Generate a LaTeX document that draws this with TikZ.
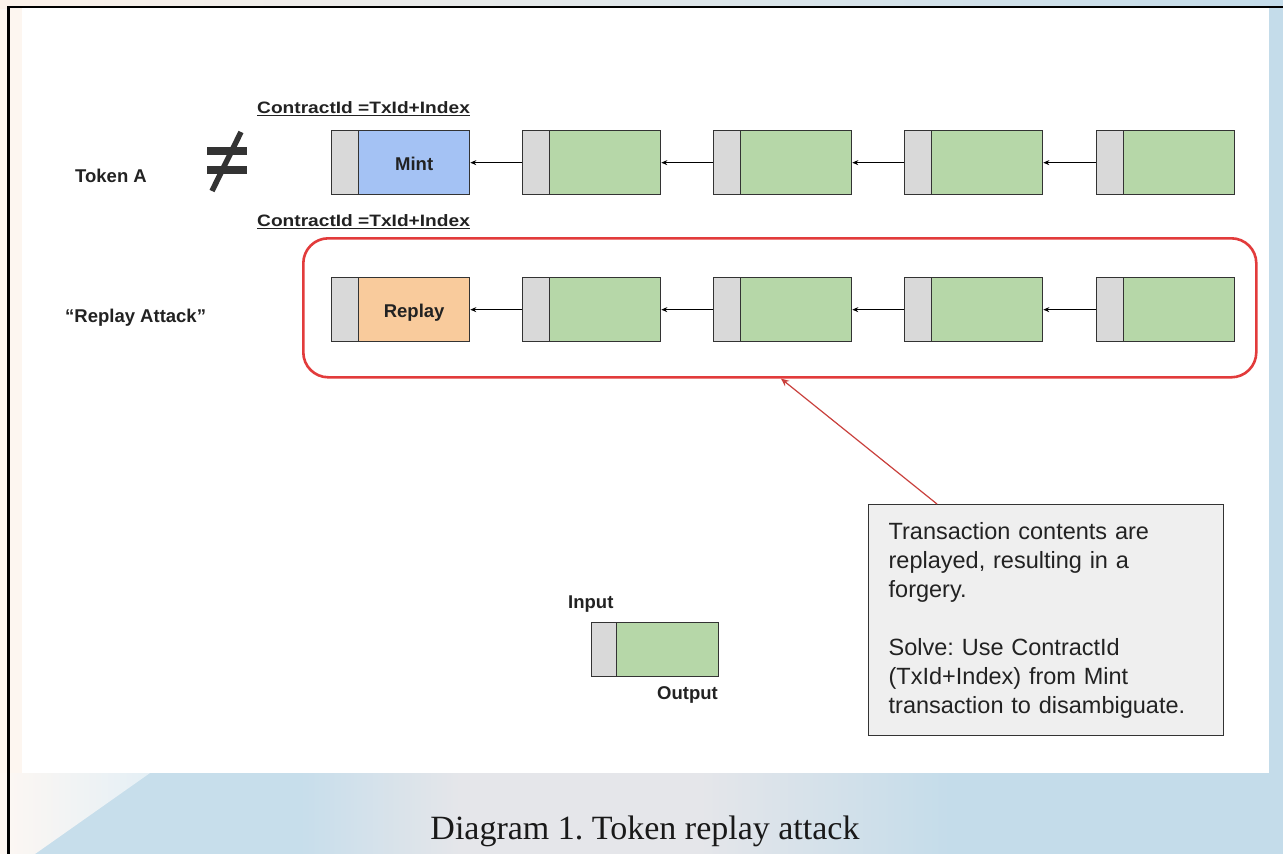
\documentclass[tikz,border=0pt]{standalone}
\usepackage{fontspec}
\newfontfamily\arial{Liberation Sans}
\newfontfamily\captionserif{Liberation Serif}
\usetikzlibrary{arrows.meta,calc}
\frenchspacing

\definecolor{inputgray}{HTML}{D9D9D9}
\definecolor{outgreen}{HTML}{B6D7A8}
\definecolor{mintblue}{HTML}{A4C2F4}
\definecolor{replayorange}{HTML}{F9CB9C}
\definecolor{boxline}{HTML}{333333}
\definecolor{ink}{HTML}{222222}
\definecolor{zonered}{HTML}{E23B3B}
\definecolor{pointerred}{HTML}{C9403C}
\definecolor{notefill}{HTML}{EFEFEF}
\definecolor{peach}{HTML}{FCF2EA}
\definecolor{skyblue}{HTML}{C4DCEA}
\definecolor{mist}{HTML}{E5E6EA}

\tikzset{
  inpart/.style={draw=boxline, fill=inputgray, line width=1.3pt, inner sep=0pt,
    minimum width=27pt, minimum height=64pt, anchor=north west},
  outpart/.style={draw=boxline, fill=outgreen, line width=1.3pt, inner sep=0pt,
    minimum width=111pt, minimum height=64pt, anchor=north west,
    text=ink, font=\arial\bfseries\fontsize{18.5}{22}\selectfont,
    text height=16pt, text depth=0pt},
  link/.style={draw=black, line width=1.1pt, -{Stealth[length=6pt,width=5pt]}},
  lbl/.style={text=ink, inner sep=0pt, font=\arial\bfseries\fontsize{18.5}{22}\selectfont},
  idlbl/.style={text=ink, inner sep=0pt, anchor=base west,
    font=\arial\bfseries\fontsize{16.5}{20}\selectfont},
  uline/.style={draw=ink, line width=1.5pt},
  zone/.style={draw=zonered, line width=2.6pt, rounded corners=25pt,
    minimum width=953pt, minimum height=139pt, anchor=north west, inner sep=0pt},
  pointer/.style={draw=pointerred, line width=1.2pt,
    -{Stealth[length=8pt,width=7pt,fill=zonered]}},
  note/.style={draw=boxline, fill=notefill, line width=1.3pt, anchor=north west,
    minimum width=355pt, minimum height=231pt, text width=315pt, inner xsep=20pt,
    align=left, text=ink, font=\arial\fontsize{23.5}{29}\selectfont},
  neq/.style={draw=boxline, line cap=butt},
}

\begin{document}
\begin{tikzpicture}[x=1pt,y=-1pt]
\useasboundingbox (0,0) rectangle (1283,854);

% page backdrop
\shade[left color=peach, right color=skyblue] (0,0) rectangle (1283,854);
\fill[peach!70!white] (0,0) rectangle (22,854);
\shade[left color=peach, right color=skyblue] (0,0) rectangle (1283,8);
\fill[skyblue] (1269,8) rectangle (1283,854);
% bottom band
\fill[skyblue!95!white] (22,773) rectangle (300,854);
\shade[left color=skyblue!95!white, right color=mist] (300,773) rectangle (460,854);
\fill[mist] (460,773) rectangle (700,854);
\shade[left color=mist, right color=skyblue] (700,773) rectangle (950,854);
\fill[skyblue] (950,773) rectangle (1283,854);
\shade[left color=peach!60!white, right color=white!55!skyblue]
  (0,773) -- (150,773) -- (35,854) -- (0,854) -- cycle;

% white sheet and its frame
\fill[white] (22,8) rectangle (1269,773);
\draw[black, line width=2.5pt] (8.7,854) -- (8.7,7.2) -- (1283,7.2);

% row labels
\node[lbl, anchor=base west] (tokena) at (75,182) {Token A};
\node[lbl, anchor=base west] (attack) at (65,322) {“Replay Attack”};

% not-equal sign
\draw[neq, line width=8pt] (207,151) -- (247,151);
\draw[neq, line width=8pt] (207,170) -- (247,170);
\draw[neq, line width=5.5pt] (212,191) -- (241,132);

% ContractId labels
\node[idlbl] (cid1) at (257,113) {\scalebox{1.16}[1]{ContractId =TxId+Index}};
\node[idlbl] (cid2) at (257,226) {\scalebox{1.16}[1]{ContractId =TxId+Index}};
\draw[uline] ([yshift=-2.5pt]cid1.base west) -- ([yshift=-2.5pt]cid1.base east);
\draw[uline] ([yshift=-2.5pt]cid2.base west) -- ([yshift=-2.5pt]cid2.base east);

% genuine token chain
\node[inpart] (ain1) at (331,130) {};
\node[outpart, fill=mintblue] (a1) at (358,130) {Mint};
\foreach \i/\x in {2/522,3/713,4/904,5/1096}{
  \node[inpart] (ain\i) at (\x,130) {};
  \node[outpart] (a\i) at (\x+27,130) {};
}
\draw[link] (ain2.west) -- (a1.east);
\draw[link] (ain3.west) -- (a2.east);
\draw[link] (ain4.west) -- (a3.east);
\draw[link] (ain5.west) -- (a4.east);

% replayed chain
\node[zone] (zone) at (302,237) {};
\node[inpart] (bin1) at (331,277) {};
\node[outpart, fill=replayorange] (b1) at (358,277) {Replay};
\foreach \i/\x in {2/522,3/713,4/904,5/1096}{
  \node[inpart] (bin\i) at (\x,277) {};
  \node[outpart] (b\i) at (\x+27,277) {};
}
\draw[link] (bin2.west) -- (b1.east);
\draw[link] (bin3.west) -- (b2.east);
\draw[link] (bin4.west) -- (b3.east);
\draw[link] (bin5.west) -- (b4.east);

% explanation
\node[note] (note) at (868,504) {Transaction contents are\\
replayed, resulting in a\\
forgery.\\[29pt]
Solve: Use ContractId\\
(TxId+Index) from Mint\\
transaction to disambiguate.};
\draw[pointer] ($(note.north west)+(69,0)$) -- ($(zone.south west)+(479,0)$);

% legend
\node[inpart, minimum width=25pt, minimum height=54pt] (legin) at (591,622) {};
\node[outpart, minimum width=102pt, minimum height=54pt] (legout) at (616,622) {};
\node[lbl, anchor=base west] (inlbl) at (568,608) {Input};
\node[lbl, anchor=base east] (outlbl) at (718,699) {Output};

% caption
\node[anchor=base, inner sep=0pt, text=black!90,
  font=\captionserif\fontsize{34}{39}\selectfont] (caption) at (645,839)
  {Diagram 1. Token replay attack};
\end{tikzpicture}
\end{document}
